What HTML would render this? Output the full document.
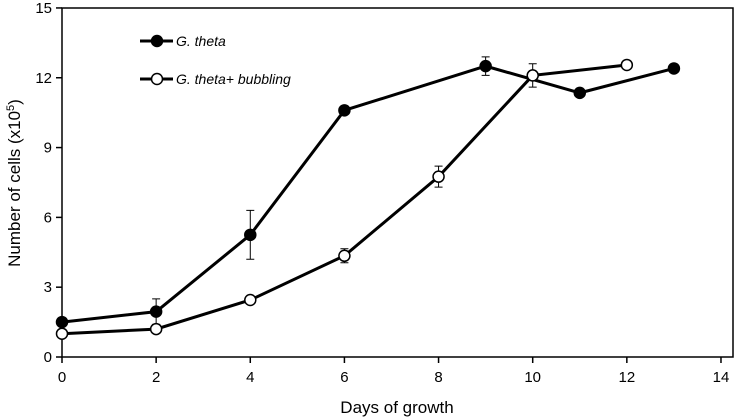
<!DOCTYPE html>
<html><head><meta charset="utf-8"><style>
body{margin:0;background:#fff;}
svg{display:block;font-family:"Liberation Sans",Arial,sans-serif;}
</style></head><body>
<svg id="chart" width="736" height="419" viewBox="0 0 736 419"></svg>
<script>
const xTicks=[0,2,4,6,8,10,12,14];
const yTicks=[0,3,6,9,12,15];
const daysA=[0,2,4,6,9,11,13];
const cellsA=[1.5,1.95,5.25,10.6,12.5,11.35,12.4];
const errA=[0,0.55,1.05,0,0.4,0,0];
const daysB=[0,2,4,6,8,10,12];
const cellsB=[1.0,1.2,2.45,4.35,7.75,12.1,12.55];
const errB=[0,0,0,0.3,0.45,0.5,0];
const NS="http://www.w3.org/2000/svg";
const svg=document.getElementById('chart');
const X=d=>62+d*47.07, Y=v=>357-v*23.27;
function el(t,a,txt){const e=document.createElementNS(NS,t);for(const k in a)e.setAttribute(k,a[k]);if(txt!=null)e.textContent=txt;svg.appendChild(e);return e;}
let e=el('rect',{x:62,y:8,width:671,height:349,fill:'none',stroke:'#000','stroke-width':1.5});

xTicks.forEach(t=>{let l=el('line',{x1:X(t),x2:X(t),y1:357,y2:363,stroke:'#000','stroke-width':1.5});

let s=el('text',{x:X(t),y:382,'text-anchor':'middle','font-size':15},t);
});
yTicks.forEach(t=>{let l=el('line',{x1:56,x2:62,y1:Y(t),y2:Y(t),stroke:'#000','stroke-width':1.5});

let s=el('text',{x:52,y:Y(t)+5,'text-anchor':'end','font-size':15},t);
});
e=el('text',{x:397,y:413,'text-anchor':'middle','font-size':17},'Days of growth');

e=el('text',{transform:'translate(20,183) rotate(-90)','text-anchor':'middle','font-size':17});

e.innerHTML='Number of cells (x10<tspan dy="-6" font-size="11">5</tspan><tspan dy="6">)</tspan>';
function series(days,vals,errs,fill,name){
 let p=el('polyline',{points:days.map((d,i)=>X(d)+','+Y(vals[i])).join(' '),fill:'none',stroke:'#000','stroke-width':3});
 
 days.forEach((d,i)=>{if(errs[i]>0){let b=el('path',{d:`M${X(d)},${Y(vals[i]-errs[i])}V${Y(vals[i]+errs[i])}M${X(d)-4},${Y(vals[i]+errs[i])}h8M${X(d)-4},${Y(vals[i]-errs[i])}h8`,stroke:'#000','stroke-width':1,fill:'none'});
 }
 let c=el('circle',{cx:X(d),cy:Y(vals[i]),r:5.5,fill:fill,stroke:'#000','stroke-width':1.5});
 });
}
series(daysA,cellsA,errA,'#000','g-theta');
series(daysB,cellsB,errB,'#fff','g-theta-bubbling');
[['G. theta','#000',41,'legend-g-theta'],['G. theta+ bubbling','#fff',79,'legend-g-theta-bubbling']].forEach(([t,f,y,n])=>{
 let l=el('line',{x1:140,x2:173,y1:y,y2:y,stroke:'#000','stroke-width':3});
 
 let c=el('circle',{cx:157,cy:y,r:5.5,fill:f,stroke:'#000','stroke-width':1.5});
 
 let s=el('text',{x:176,y:y+5,'font-size':14,'font-style':'italic'},t);
 });
</script>
</body></html>
